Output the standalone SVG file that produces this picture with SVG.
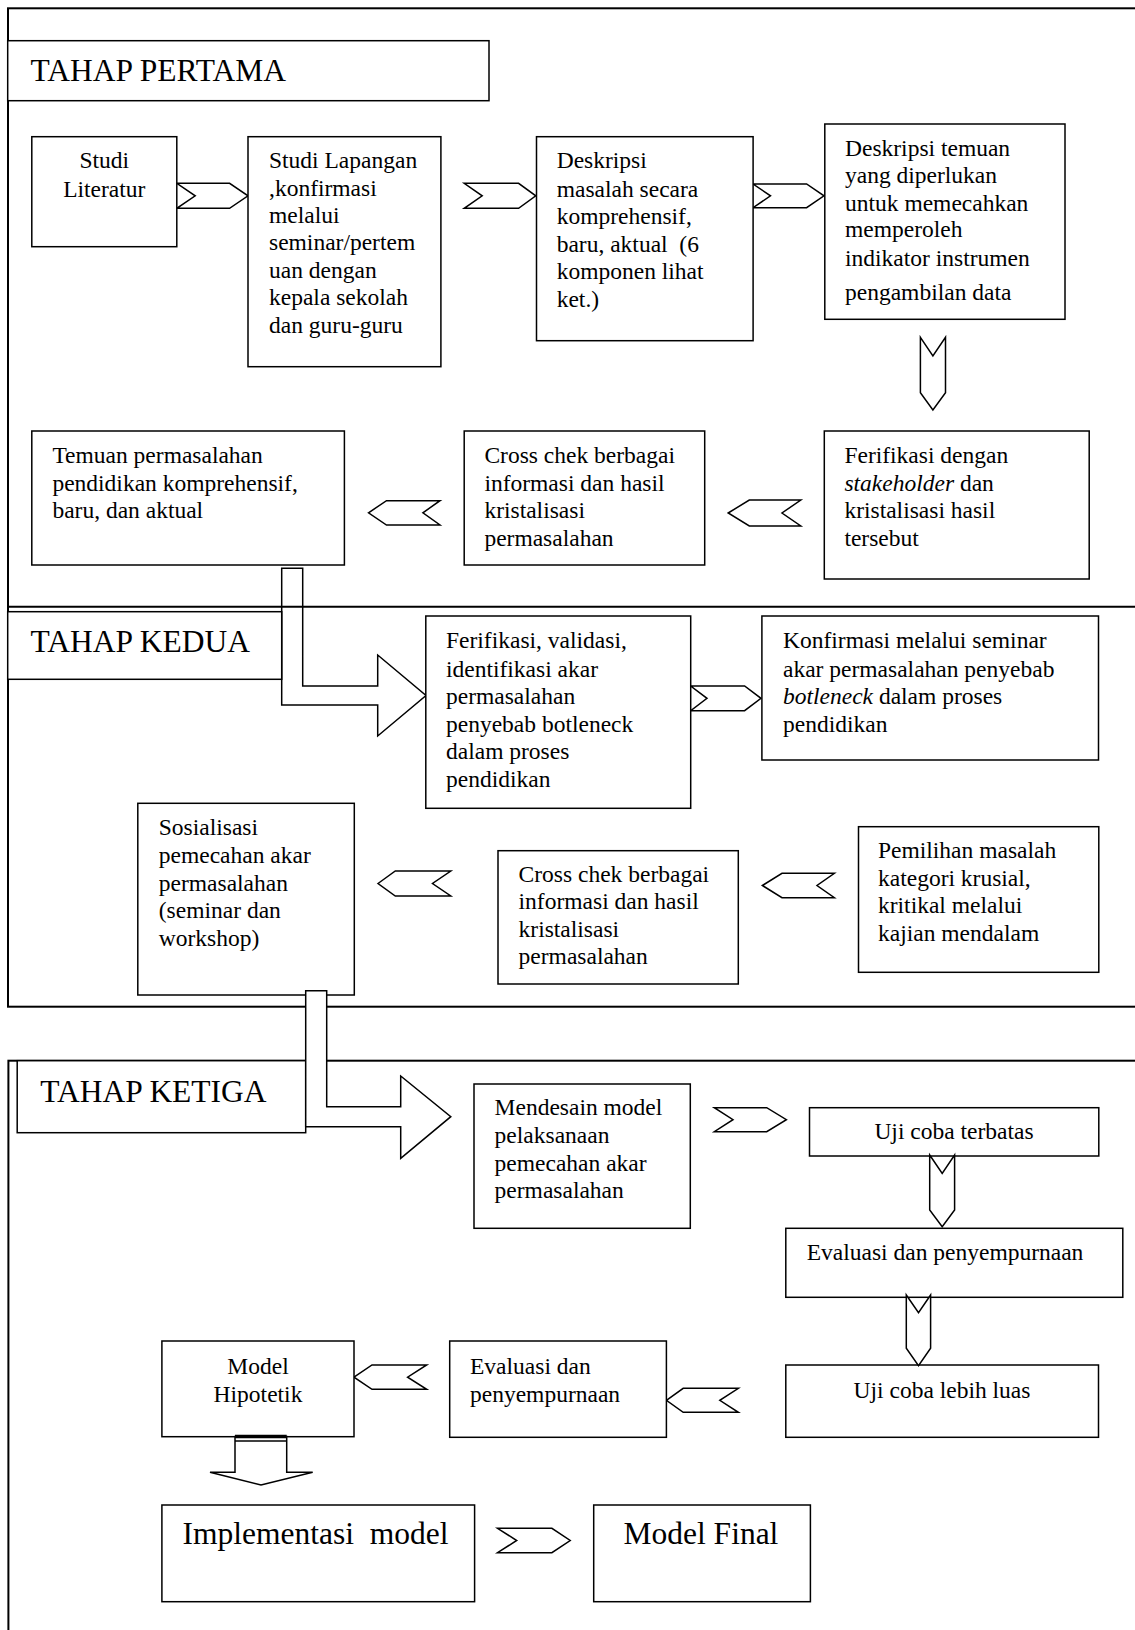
<svg xmlns="http://www.w3.org/2000/svg" width="1135" height="1630" viewBox="0 0 1135 1630">
<style>
.frame{fill:none;stroke:#000;stroke-width:2}
.box{fill:#fff;stroke:#000;stroke-width:1.5}
.arr{fill:#fff;stroke:#000;stroke-width:1.5;stroke-linejoin:miter}
.t{font-family:"Liberation Serif","Times New Roman",serif;font-size:23.5px;fill:#000}
.c{text-anchor:middle}
.big{font-family:"Liberation Serif","Times New Roman",serif;font-size:31.5px;fill:#000}
.pre{white-space:pre}
</style>
<rect width="1135" height="1630" fill="#fff"/>

<g id="frames">
<rect class="frame" x="8" y="8.3" width="1140" height="998.4"/>
<rect class="frame" x="8.4" y="1060.7" width="1140" height="600"/>
</g>

<g id="connectors">
<path class="arr" d="M281.7,568.3 L302.7,568.3 L302.7,686 L377.7,686 L377.7,655 L426,695.5 L377.7,736 L377.7,705 L281.7,705 Z"/>
<polygon class="arr" points="176.8,183.3 229.6,183.3 248,195.8 229.6,208.3 176.8,208.3 195.2,195.8"/>
<polygon class="arr" points="464.2,183.3 518.6,183.3 535.8,195.8 518.6,208.3 464.2,208.3 482.2,195.8"/>
<polygon class="arr" points="753.1,184 806.6,184 824,195.8 806.6,207.7 753.1,207.7 770.5,195.8"/>
<polygon class="arr" points="920.4,337.3 932.9,356 945.5,337.3 945.5,392.7 932.9,410 920.4,392.7"/>
<polygon class="arr" points="728.2,513 749.3,500 800.8,500 782,513 800.8,526 749.3,526"/>
<polygon class="arr" points="368.5,512.8 386.5,500.7 440,500.7 422.9,512.8 440,525 386.5,525"/>
<polygon class="arr" points="690.7,686 744.6,686 761,698.3 744.6,710.7 690.7,710.7 707,698.3"/>
<polygon class="arr" points="762.4,885.5 782,873.3 834.4,873.3 817,885.5 834.4,897.7 782,897.7"/>
<polygon class="arr" points="378,883.5 395.3,871 450.8,871 432.5,883.5 450.8,896 395.3,896"/>
<polygon class="arr" points="714.3,1107.7 766.7,1107.7 786.4,1119.7 766.7,1131.7 714.3,1131.7 733,1119.7"/>
<polygon class="arr" points="666.4,1400.3 683.2,1388.3 738.4,1388.3 719.8,1400.3 738.4,1412.3 683.2,1412.3"/>
<polygon class="arr" points="354,1377.2 372,1365 426.7,1365 407.6,1377.2 426.7,1389.3 372,1389.3"/>
<polygon class="arr" points="497.5,1528.3 551.9,1528.3 570.2,1540.5 551.9,1552.7 497.5,1552.7 516.7,1540.5"/>
</g>

<g id="divider">
<line class="frame" x1="8" y1="606.7" x2="1140" y2="606.7"/>
</g>

<g id="title1">
<rect class="box" x="7.7" y="40.7" width="481.3" height="60"/>
<text class="big" x="30.6" y="80.7">TAHAP PERTAMA</text>
</g>
<g id="title2">
<rect class="box" x="7.7" y="611.7" width="274" height="67.6"/>
<text class="big" x="30.6" y="651.7">TAHAP KEDUA</text>
</g>
<g id="title3">
<rect class="box" x="17.2" y="1060.7" width="288.5" height="72"/>
<text class="big" x="40.2" y="1101.7">TAHAP KETIGA</text>
</g>

<g id="studi-literatur">
<rect class="box" x="31.8" y="136.7" width="145" height="110"/>
<text class="t c" x="104.3" y="168.3">Studi</text>
<text class="t c" x="104.3" y="197.3">Literatur</text>
</g>

<g id="studi-lapangan">
<rect class="box" x="248" y="136.7" width="192.9" height="230"/>
<text class="t" x="269" y="168.3">Studi Lapangan</text>
<text class="t" x="269" y="195.5">,konfirmasi</text>
<text class="t" x="269" y="222.7">melalui</text>
<text class="t" x="269" y="250">seminar/pertem</text>
<text class="t" x="269" y="277.7">uan dengan</text>
<text class="t" x="269" y="305">kepala sekolah</text>
<text class="t" x="269" y="333.3">dan guru-guru</text>
</g>

<g id="deskripsi-masalah">
<rect class="box" x="536.5" y="136.7" width="216.6" height="204"/>
<text class="t" x="556.7" y="168.3">Deskripsi</text>
<text class="t" x="556.7" y="196.7">masalah secara</text>
<text class="t" x="556.7" y="224">komprehensif,</text>
<text class="t pre" x="556.7" y="251.7">baru, aktual  (6</text>
<text class="t" x="556.7" y="279">komponen lihat</text>
<text class="t" x="556.7" y="306.7">ket.)</text>
</g>

<g id="deskripsi-temuan">
<rect class="box" x="824.8" y="124" width="240.2" height="195.3"/>
<text class="t" x="845" y="156">Deskripsi temuan</text>
<text class="t" x="845" y="183.3">yang diperlukan</text>
<text class="t" x="845" y="210.7">untuk memecahkan</text>
<text class="t" x="845" y="237.3">memperoleh</text>
<text class="t" x="845" y="265.7">indikator instrumen</text>
<text class="t" x="845" y="300">pengambilan data</text>
</g>

<g id="ferifikasi-stakeholder">
<rect class="box" x="824.3" y="431" width="264.9" height="148"/>
<text class="t" x="844.4" y="463.3">Ferifikasi dengan</text>
<text class="t" x="844.4" y="490.7"><tspan font-style="italic">stakeholder</tspan> dan</text>
<text class="t" x="844.4" y="518.3">kristalisasi hasil</text>
<text class="t" x="844.4" y="546">tersebut</text>
</g>

<g id="cross-chek-1">
<rect class="box" x="464.2" y="431" width="240.5" height="134"/>
<text class="t" x="484.4" y="463.3">Cross chek berbagai</text>
<text class="t" x="484.4" y="490.7">informasi dan hasil</text>
<text class="t" x="484.4" y="518.3">kristalisasi</text>
<text class="t" x="484.4" y="546">permasalahan</text>
</g>

<g id="temuan">
<rect class="box" x="31.8" y="431" width="312.6" height="134"/>
<text class="t" x="52.4" y="463.3">Temuan permasalahan</text>
<text class="t" x="52.4" y="490.7">pendidikan komprehensif,</text>
<text class="t" x="52.4" y="518.3">baru, dan aktual</text>
</g>

<g id="ferifikasi-validasi">
<rect class="box" x="425.8" y="616" width="264.9" height="192.3"/>
<text class="t" x="446" y="648.3">Ferifikasi, validasi,</text>
<text class="t" x="446" y="676.7">identifikasi akar</text>
<text class="t" x="446" y="704">permasalahan</text>
<text class="t" x="446" y="731.7">penyebab botleneck</text>
<text class="t" x="446" y="759.3">dalam proses</text>
<text class="t" x="446" y="786.7">pendidikan</text>
</g>

<g id="konfirmasi">
<rect class="box" x="761.9" y="616" width="336.6" height="144"/>
<text class="t" x="783" y="648.3">Konfirmasi melalui seminar</text>
<text class="t" x="783" y="676.7">akar permasalahan penyebab</text>
<text class="t" x="783" y="704"><tspan font-style="italic">botleneck</tspan> dalam proses</text>
<text class="t" x="783" y="731.7">pendidikan</text>
</g>

<g id="pemilihan">
<rect class="box" x="858.5" y="826.7" width="240.3" height="145.6"/>
<text class="t" x="878" y="858.3">Pemilihan masalah</text>
<text class="t" x="878" y="886">kategori krusial,</text>
<text class="t" x="878" y="913.3">kritikal melalui</text>
<text class="t" x="878" y="941">kajian mendalam</text>
</g>

<g id="cross-chek-2">
<rect class="box" x="498" y="850.7" width="240.3" height="133.3"/>
<text class="t" x="518.6" y="881.7">Cross chek berbagai</text>
<text class="t" x="518.6" y="909.3">informasi dan hasil</text>
<text class="t" x="518.6" y="936.7">kristalisasi</text>
<text class="t" x="518.6" y="964.3">permasalahan</text>
</g>

<g id="sosialisasi">
<rect class="box" x="137.8" y="803.3" width="216.5" height="191.7"/>
<text class="t" x="158.8" y="835">Sosialisasi</text>
<text class="t" x="158.8" y="863.3">pemecahan akar</text>
<text class="t" x="158.8" y="891">permasalahan</text>
<text class="t" x="158.8" y="918.3">(seminar dan</text>
<text class="t" x="158.8" y="945.7">workshop)</text>
</g>

<g id="mendesain">
<rect class="box" x="474" y="1084" width="216.3" height="144.3"/>
<text class="t" x="494.6" y="1115">Mendesain model</text>
<text class="t" x="494.6" y="1143.3">pelaksanaan</text>
<text class="t" x="494.6" y="1170.7">pemecahan akar</text>
<text class="t" x="494.6" y="1198.3">permasalahan</text>
</g>

<g id="uji-terbatas">
<rect class="box" x="809.5" y="1107.7" width="289.3" height="48.3"/>
<text class="t c" x="954" y="1139">Uji coba terbatas</text>
</g>

<g id="evaluasi-1">
<rect class="box" x="785.8" y="1228.3" width="337" height="69"/>
<text class="t" x="806.7" y="1260">Evaluasi dan penyempurnaan</text>
</g>

<g id="uji-luas">
<rect class="box" x="785.8" y="1365" width="312.7" height="72.3"/>
<text class="t c" x="942" y="1398.3">Uji coba lebih luas</text>
</g>

<g id="evaluasi-2">
<rect class="box" x="449.7" y="1341" width="216.7" height="96.3"/>
<text class="t" x="470" y="1374">Evaluasi dan</text>
<text class="t" x="470" y="1401.7">penyempurnaan</text>
</g>

<g id="model-hipotetik">
<rect class="box" x="161.9" y="1341" width="192.1" height="95.7"/>
<text class="t c" x="258" y="1374">Model</text>
<text class="t c" x="258" y="1402.3">Hipotetik</text>
</g>

<g id="implementasi">
<rect class="box" x="161.9" y="1505" width="312.7" height="96.7"/>
<text class="big pre" x="182.5" y="1544">Implementasi  model</text>
</g>

<g id="model-final">
<rect class="box" x="593.7" y="1505" width="216.7" height="96.7"/>
<text class="big" x="623.5" y="1544">Model Final</text>
</g>

<g id="connectors-over">
<path class="arr" d="M305.7,990.7 L326.7,990.7 L326.7,1106.7 L400.7,1106.7 L400.7,1076 L450.8,1116.7 L400.7,1158.3 L400.7,1126.7 L305.7,1126.7 Z"/>
<polygon class="arr" points="929.7,1155 942.2,1173.3 954.6,1155 954.6,1210 942.2,1226.7 929.7,1210"/>
<polygon class="arr" points="906.3,1295 918.5,1312.7 930.6,1295 930.6,1348.3 918.5,1365.7 906.3,1348.3"/>
<polygon class="arr" points="235,1436.5 286.7,1436.5 286.7,1472.3 312.7,1472.3 261,1485 210,1472.3 235,1472.3"/>
<line x1="235" y1="1436.5" x2="286.7" y2="1436.5" stroke="#000" stroke-width="3.5"/>
<line x1="235" y1="1441" x2="286.7" y2="1441" stroke="#000" stroke-width="1.5"/>
</g>
</svg>
